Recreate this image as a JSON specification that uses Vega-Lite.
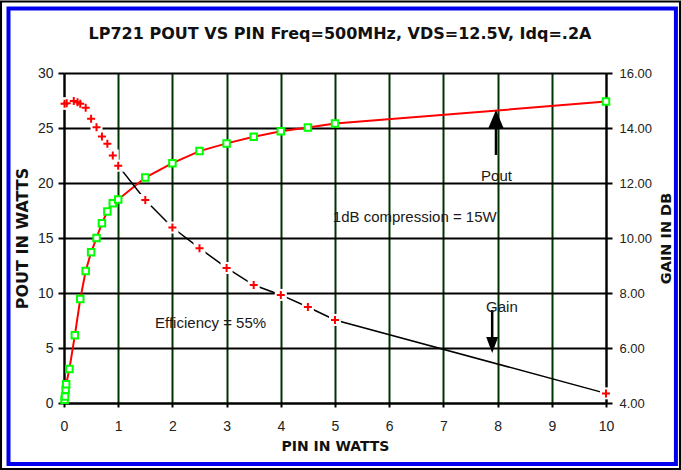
{
  "$schema": "https://vega.github.io/schema/vega-lite/v6.json",
  "width": 542,
  "height": 330,
  "autosize": {"type": "none"},
  "padding": {"left": 64, "top": 73, "right": 75, "bottom": 67},
  "background": "white",
  "title": {"text": "LP721 POUT VS PIN Freq=500MHz, VDS=12.5V, Idq=.2A", "font": "DejaVu Sans", "fontSize": 16, "fontWeight": "bold", "color": "#111111", "anchor": "middle", "frame": "group", "offset": -41, "dx": 5},
  "config": {
    "view": {"stroke": null},
    "axis": {"domainColor": "black", "domainWidth": 2, "tickColor": "black", "tickWidth": 2, "labelFont": "Liberation Sans", "labelColor": "#222222", "titleFont": "DejaVu Sans", "titleFontWeight": "bold", "titleColor": "#111111", "titleFontSize": 14}
  },
  "datasets": {
    "pout": [
      {"pin": 0.01, "pout": 0.3}, {"pin": 0.02, "pout": 0.6}, {"pin": 0.03, "pout": 1.2}, {"pin": 0.04, "pout": 1.7},
      {"pin": 0.1, "pout": 3.1}, {"pin": 0.2, "pout": 6.15}, {"pin": 0.3, "pout": 9.45}, {"pin": 0.4, "pout": 12.0},
      {"pin": 0.5, "pout": 13.7}, {"pin": 0.6, "pout": 15.0}, {"pin": 0.7, "pout": 16.35}, {"pin": 0.8, "pout": 17.4},
      {"pin": 0.9, "pout": 18.15}, {"pin": 1.0, "pout": 18.5}, {"pin": 1.5, "pout": 20.5}, {"pin": 2.0, "pout": 21.8},
      {"pin": 2.5, "pout": 22.9}, {"pin": 3.0, "pout": 23.6}, {"pin": 3.5, "pout": 24.2}, {"pin": 4.0, "pout": 24.7},
      {"pin": 4.5, "pout": 25.05}, {"pin": 5.0, "pout": 25.4}, {"pin": 10.0, "pout": 27.4}
    ],
    "gain": [
      {"pin": 0.01, "gain": 14.88}, {"pin": 0.05, "gain": 14.9}, {"pin": 0.18, "gain": 14.98}, {"pin": 0.25, "gain": 14.94},
      {"pin": 0.3, "gain": 14.88}, {"pin": 0.4, "gain": 14.74}, {"pin": 0.5, "gain": 14.34}, {"pin": 0.6, "gain": 14.03},
      {"pin": 0.7, "gain": 13.69}, {"pin": 0.8, "gain": 13.43}, {"pin": 0.9, "gain": 13.0}, {"pin": 1.0, "gain": 12.63},
      {"pin": 1.5, "gain": 11.38}, {"pin": 2.0, "gain": 10.38}, {"pin": 2.5, "gain": 9.63}, {"pin": 3.0, "gain": 8.91},
      {"pin": 3.5, "gain": 8.29}, {"pin": 4.0, "gain": 7.93}, {"pin": 4.5, "gain": 7.49}, {"pin": 5.0, "gain": 7.02},
      {"pin": 10.0, "gain": 4.35}
    ],
    "notesCenter": [
      {"pin": 7.98, "y": 20.67, "label": "Pout"},
      {"pin": 8.08, "y": 8.73, "label": "Gain"}
    ],
    "notesLeft": [
      {"pin": 4.96, "y": 16.95, "label": "1dB compression = 15W"},
      {"pin": 1.68, "y": 7.25, "label": "Efficiency = 55%"}
    ],
    "arrowShafts": [
      {"pin": 7.97, "from": 22.55, "to": 25.3},
      {"pin": 7.9, "from": 8.45, "to": 5.73}
    ],
    "headUp": [{"pin": 7.97, "y": 25.77}],
    "headDown": [{"pin": 7.9, "y": 5.27}]
  },
  "layer": [
    {
      "layer": [
        {
          "data": {"name": "pout"},
          "mark": {"type": "line", "color": "#ff0000", "strokeWidth": 2},
          "encoding": {
            "x": {"field": "pin", "type": "quantitative", "scale": {"domain": [0, 10], "nice": false}, "title": "PIN IN WATTS",
              "axis": {"values": [0, 1, 2, 3, 4, 5, 6, 7, 8, 9, 10], "grid": true, "gridColor": "#003300", "gridWidth": 2, "tickSize": 4, "labelFontSize": 14, "labelPadding": 12, "labelFlush": false, "titlePadding": 6}},
            "y": {"field": "pout", "type": "quantitative", "scale": {"domain": [0, 30], "nice": false}, "title": "POUT IN WATTS",
              "axis": {"values": [0, 5, 10, 15, 20, 25, 30], "grid": true, "gridColor": "black", "gridWidth": 2, "tickSize": 6, "labelFontSize": 14, "labelPadding": 5, "titlePadding": 7, "titleFontSize": 16}}
          }
        },
        {
          "data": {"values": [{}]},
          "mark": {"type": "rect", "fill": null, "stroke": "black", "strokeWidth": 2},
          "encoding": {
            "x": {"datum": -1.162, "type": "quantitative", "title": "PIN IN WATTS"},
            "x2": {"datum": 11.365},
            "y": {"datum": 36.5, "type": "quantitative", "title": "POUT IN WATTS"},
            "y2": {"datum": -6.0}
          }
        },
        {
          "data": {"values": [{}]},
          "mark": {"type": "rect", "fill": null, "stroke": "#0000ee", "strokeWidth": 4},
          "encoding": {
            "x": {"datum": -1.024, "type": "quantitative", "title": "PIN IN WATTS"},
            "x2": {"datum": 11.29},
            "y": {"datum": 35.86, "type": "quantitative", "title": "POUT IN WATTS"},
            "y2": {"datum": -5.55}
          }
        },
        {
          "data": {"name": "arrowShafts"},
          "mark": {"type": "rule", "color": "black", "strokeWidth": 2.5},
          "encoding": {
            "x": {"field": "pin", "type": "quantitative", "title": "PIN IN WATTS"},
            "y": {"field": "from", "type": "quantitative", "title": "POUT IN WATTS"},
            "y2": {"field": "to"}
          }
        },
        {
          "data": {"name": "headUp"},
          "mark": {"type": "point", "shape": "M0,-1L-0.84,1L0.84,1Z", "filled": true, "color": "black", "opacity": 1, "size": 361},
          "encoding": {
            "x": {"field": "pin", "type": "quantitative", "title": "PIN IN WATTS"},
            "y": {"field": "y", "type": "quantitative", "title": "POUT IN WATTS"}
          }
        },
        {
          "data": {"name": "headDown"},
          "mark": {"type": "point", "shape": "M0,1L-0.75,-1L0.75,-1Z", "filled": true, "color": "black", "opacity": 1, "size": 256},
          "encoding": {
            "x": {"field": "pin", "type": "quantitative", "title": "PIN IN WATTS"},
            "y": {"field": "y", "type": "quantitative", "title": "POUT IN WATTS"}
          }
        },
        {
          "data": {"name": "notesCenter"},
          "mark": {"type": "text", "font": "Liberation Sans", "fontSize": 15, "color": "#1a1a1a", "align": "center", "baseline": "middle"},
          "encoding": {
            "x": {"field": "pin", "type": "quantitative", "title": "PIN IN WATTS"},
            "y": {"field": "y", "type": "quantitative", "title": "POUT IN WATTS"},
            "text": {"field": "label"}
          }
        },
        {
          "data": {"name": "notesLeft"},
          "mark": {"type": "text", "font": "Liberation Sans", "fontSize": 15, "color": "#1a1a1a", "align": "left", "baseline": "middle"},
          "encoding": {
            "x": {"field": "pin", "type": "quantitative", "title": "PIN IN WATTS"},
            "y": {"field": "y", "type": "quantitative", "title": "POUT IN WATTS"},
            "text": {"field": "label"}
          }
        },
        {
          "data": {"name": "pout"},
          "mark": {"type": "point", "shape": "square", "filled": true, "fill": "white", "stroke": "#00ff00", "strokeWidth": 2, "opacity": 1, "size": 42},
          "encoding": {
            "x": {"field": "pin", "type": "quantitative", "title": "PIN IN WATTS"},
            "y": {"field": "pout", "type": "quantitative", "title": "POUT IN WATTS"}
          }
        }
      ]
    },
    {
      "data": {"name": "gain"},
      "encoding": {
        "x": {"field": "pin", "type": "quantitative", "title": "PIN IN WATTS"},
        "y": {"field": "gain", "type": "quantitative", "scale": {"domain": [4, 16], "nice": false}, "title": "GAIN IN DB",
          "axis": {"orient": "right", "values": [4, 6, 8, 10, 12, 14, 16], "format": ".2f", "grid": false, "tickSize": 6, "labelFontSize": 13, "labelPadding": 7, "titleAngle": 270, "titleBaseline": "top", "titlePadding": 8, "titleFontSize": 14.5}}
      },
      "layer": [
        {"mark": {"type": "line", "color": "black", "strokeWidth": 1.5}},
        {"mark": {"type": "point", "shape": "square", "filled": true, "color": "white", "opacity": 1, "size": 144}},
        {"mark": {"type": "point", "shape": "M-1,0L1,0M0,-1L0,1", "filled": false, "stroke": "#ff0000", "strokeWidth": 2, "opacity": 1, "size": 64}}
      ]
    }
  ],
  "resolve": {"scale": {"y": "independent"}}
}
